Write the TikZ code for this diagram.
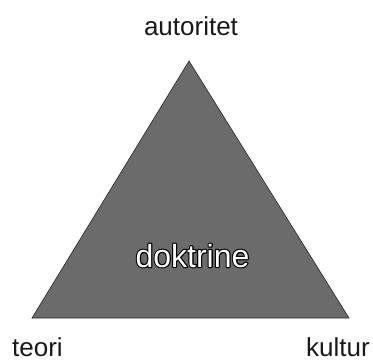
\documentclass[tikz,border=0pt]{standalone}
\usepackage{fontspec}
\setmainfont{Liberation Sans}
\newcommand{\outlinedtext}[1]{\rlap{\special{pdf:code q 1 Tr 2.2 w 0 0 0 RG 1 j}#1\special{pdf:code Q}}#1}
\tikzset{
  lbl/.style={inner sep=0pt, font=\fontsize{26}{30}\selectfont, text=black!90},
  tri/.style={fill=black!58, draw=black!85, line width=0.6pt}
}
\begin{document}
\begin{tikzpicture}[x=1pt,y=-1pt]
\useasboundingbox (0,0) rectangle (373,360);
\coordinate (A) at (189,61);
\coordinate (B) at (32,318);
\coordinate (C) at (349,318);
\path[tri] (A) -- (B) -- (C) -- cycle;
\node[lbl, anchor=base] (aut) at (191,35) {autoritet};
\node[lbl, anchor=base west] (teo) at (12,356) {teori};
\node[lbl, anchor=base east] (kul) at (370,356) {kultur};
\node[inner sep=0pt, anchor=base, text=white, font=\fontsize{32}{36}\selectfont] (dok) at (192.5,267) {\outlinedtext{doktrine}};
\end{tikzpicture}
\end{document}
